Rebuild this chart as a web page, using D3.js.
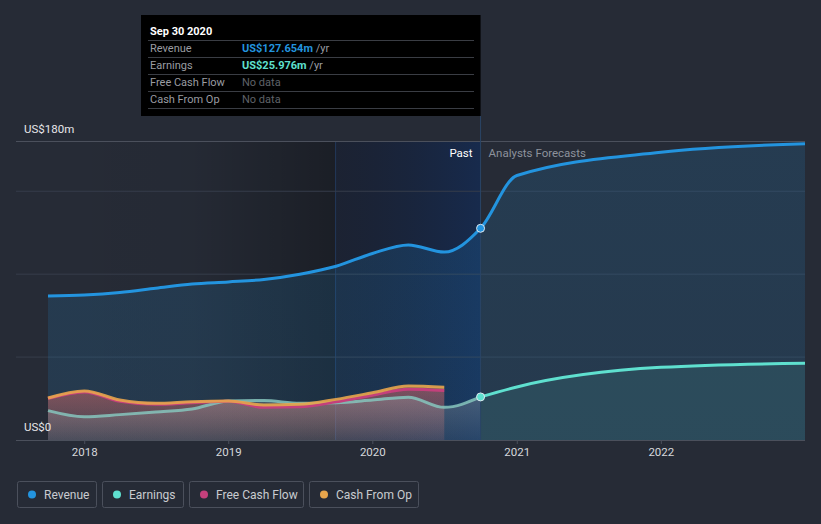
<!DOCTYPE html>
<html><head><meta charset="utf-8">
<script src="https://cdn.jsdelivr.net/npm/d3@7"></script>
<style>
html,body{margin:0;padding:0;background:#262b36;}
svg{display:block;font-family:Roboto,"Noto Sans",sans-serif;}
</style></head>
<body><svg id="c" width="821" height="524"></svg>
<script>
const pastDates = ["2017-09-30","2017-12-31","2018-03-31","2018-06-30","2018-09-30","2018-12-31","2019-03-31","2019-06-30","2019-09-30","2019-12-31","2020-03-31","2020-06-30","2020-09-30"];
const revenuePast = [86.9,87.5,89.0,91.5,94.0,95.3,96.8,100.0,104.8,112.5,117.6,113.3,127.654];
const earningsPast = [17.7,14.0,15.3,16.9,18.7,23.5,23.8,22.1,22.5,24.1,25.8,19.7,25.976];
const fcfDates = pastDates.slice(0,12);
const fcfValues = [25.0,29.0,23.3,21.5,22.5,23.3,19.7,20.0,23.0,27.0,30.6,29.8];
const cfoValues = [25.3,29.6,24.1,22.1,23.1,23.5,21.1,21.5,24.5,28.5,32.6,31.8];
const forecastDates = ["2020-09-30","2020-12-31","2021-12-31","2022-12-31"];
const revenueForecast = [127.654,159.5,173.5,178.7];
const earningsForecast = [25.976,32.0,43.8,46.3];
const yearTicks = ["2018","2019","2020","2021","2022"];
const yTickValues = [0,50,100,150,180];
const yLabels = [{v:180,t:"US$180m"},{v:0,t:"US$0"}];
const seriesNames = ["Revenue","Earnings","Free Cash Flow","Cash From Op"];
const seriesColors = ["#2394df","#5fe0cf","#c4407c","#e8a54c"];
const tipTitle = "Sep 30 2020";
const tipValues = ["US$127.654m","US$25.976m","No data","No data"];

const parse = d3.timeParse("%Y-%m-%d");
const svg = d3.select("#c");
const x = d3.scaleTime().domain([parse("2017-09-30"), parse("2022-12-31")]).range([48,805]);
const y = d3.scaleLinear().domain([0,180]).range([440,141.5]);
const plotL = 16, plotR = 805;
const pastStart = parse("2017-09-30"), hlStart = parse("2019-09-30"), now = parse("2020-09-30");

const defs = svg.append("defs");
const g1 = defs.append("linearGradient").attr("id","pastShade").attr("x1","0").attr("x2","1").attr("y1","0").attr("y2","0");
g1.append("stop").attr("offset","0").attr("stop-color","#000").attr("stop-opacity",0);
g1.append("stop").attr("offset","0.5").attr("stop-color","#000").attr("stop-opacity",0.03);
g1.append("stop").attr("offset","1").attr("stop-color","#000").attr("stop-opacity",0.3);
const g2 = defs.append("linearGradient").attr("id","hl").attr("x1","0").attr("x2","1").attr("y1","0").attr("y2","0");
g2.append("stop").attr("offset","0").attr("stop-color","#06102a").attr("stop-opacity",0.32);
g2.append("stop").attr("offset","1").attr("stop-color","#0d2a5c").attr("stop-opacity",0.6);
seriesColors.forEach((c,i)=>{
  const g = defs.append("linearGradient").attr("id","af"+i).attr("x1","0").attr("x2","0").attr("y1","0").attr("y2","1");
  g.append("stop").attr("offset","0").attr("stop-color", c).attr("stop-opacity", i===0?0.16:0.32);
  g.append("stop").attr("offset","1").attr("stop-color", c).attr("stop-opacity", i===0?0.14:0.08);
});
const ge = defs.append("linearGradient").attr("id","afE").attr("x1","0").attr("x2","0").attr("y1","0").attr("y2","1");
ge.append("stop").attr("offset","0").attr("stop-color","#9aa0a8").attr("stop-opacity",0.35);
ge.append("stop").attr("offset","1").attr("stop-color","#9aa0a8").attr("stop-opacity",0.12);

// shading regions
svg.append("rect").attr("x",x(pastStart)).attr("y",y(180)).attr("width",x(hlStart)-x(pastStart)).attr("height",y(0)-y(180)).attr("fill","url(#pastShade)");
svg.append("rect").attr("x",x(hlStart)).attr("y",y(180)).attr("width",x(now)-x(hlStart)).attr("height",y(0)-y(180)).attr("fill","url(#hl)");
svg.append("line").attr("x1",x(hlStart)-0.5).attr("x2",x(hlStart)-0.5).attr("y1",y(180)).attr("y2",y(0)).attr("stroke","#22395c").attr("stroke-width",1);

// gridlines
svg.append("g").selectAll("line").data(yTickValues.filter(v=>v>0)).join("line")
  .attr("x1",plotL).attr("x2",plotR).attr("y1",d=>y(d)).attr("y2",d=>y(d))
  .attr("stroke",d=>d===180?"#4b505c":"#363d4b").attr("stroke-width",1);

const mk = (dates, vals)=>dates.map((d,i)=>({d:parse(d), v:vals[i]}));
const rev = mk(pastDates, revenuePast).concat(mk(forecastDates, revenueForecast).slice(1));
const earnP = mk(pastDates, earningsPast);
const earnF = mk(forecastDates, earningsForecast);
const fcf = mk(fcfDates, fcfValues);
const cfo = mk(fcfDates, cfoValues);

const curve = d3.curveMonotoneX;
const area = d3.area().x(d=>x(d.d)).y0(y(0)).y1(d=>y(d.v)).curve(curve);
const line = d3.line().x(d=>x(d.d)).y(d=>y(d.v)).curve(curve);

// areas
svg.append("path").attr("d",area(rev)).attr("fill","url(#af0)");
svg.append("path").attr("d",area(earnF)).attr("fill",seriesColors[1]).attr("fill-opacity",0.1);
svg.append("path").attr("d",area(cfo)).attr("fill","url(#af3)");
svg.append("path").attr("d",area(fcf)).attr("fill","url(#af2)");
svg.append("path").attr("d",area(earnP)).attr("fill","url(#afE)");

// lines
svg.append("path").attr("d",line(earnP)).attr("fill","none").attr("stroke","#86c6bd").attr("stroke-opacity",0.85).attr("stroke-width",3);
svg.append("path").attr("d",line(fcf)).attr("fill","none").attr("stroke",seriesColors[2]).attr("stroke-width",3);
svg.append("path").attr("d",line(cfo)).attr("fill","none").attr("stroke",seriesColors[3]).attr("stroke-opacity",0.9).attr("stroke-width",3);
svg.append("path").attr("d",line(earnF)).attr("fill","none").attr("stroke",seriesColors[1]).attr("stroke-width",3);
svg.append("path").attr("d",line(rev)).attr("fill","none").attr("stroke",seriesColors[0]).attr("stroke-width",3);

// now line
svg.append("line").attr("x1",x(now)).attr("x2",x(now)).attr("y1",116).attr("y2",y(0)).attr("stroke","#2a4566").attr("stroke-width",1);

// points
[[revenuePast[12],seriesColors[0]],[earningsPast[12],seriesColors[1]]].forEach(([v,c])=>{
  svg.append("circle").attr("cx",x(now)).attr("cy",y(v)).attr("r",4).attr("fill",c).attr("stroke","#dfe8f0").attr("stroke-width",1);
});

// axis
svg.append("line").attr("x1",plotL).attr("x2",plotR).attr("y1",y(0)+0.5).attr("y2",y(0)+0.5).attr("stroke","#4b505c").attr("stroke-width",1);
const xa = svg.append("g");
yearTicks.forEach(t=>{
  const xx = x(parse(t+"-01-01"));
  xa.append("line").attr("x1",xx).attr("x2",xx).attr("y1",y(0)).attr("y2",y(0)+4).attr("stroke","#4b505c");
  xa.append("text").attr("x",xx).attr("y",456).attr("text-anchor","middle").attr("fill","#d6d8dc").attr("font-size",11.5).text(t);
});
yLabels.forEach(l=>{
  svg.append("text").attr("x",24).attr("y",y(l.v)-9).attr("fill","#e6e7ea").attr("font-size",11.5).text(l.t);
});

svg.append("text").attr("x",x(now)-8).attr("y",157).attr("text-anchor","end").attr("fill","#ffffff").attr("font-size",11.5).text("Past");
svg.append("text").attr("x",x(now)+8).attr("y",157).attr("fill","#8d929c").attr("font-size",11.5).text("Analysts Forecasts");

// tooltip
const tip = svg.append("g");
tip.append("rect").attr("x",141).attr("y",15).attr("width",x(now)-141).attr("height",101).attr("fill","#000");
tip.append("text").attr("x",150).attr("y",35).attr("fill","#fff").attr("font-size",11).attr("font-weight","bold").text(tipTitle);
seriesNames.forEach((n,i)=>{
  const yy = 40 + i*17;
  tip.append("line").attr("x1",148).attr("x2",474).attr("y1",yy+0.5).attr("y2",yy+0.5).attr("stroke","#3a3d44");
  tip.append("text").attr("x",150).attr("y",yy+12).attr("fill","#9a9ca2").attr("font-size",11).text(n);
  const t = tip.append("text").attr("x",242).attr("y",yy+12).attr("font-size",11);
  if (tipValues[i]==="No data") t.attr("fill","#5f6268").text("No data");
  else { t.append("tspan").attr("fill",seriesColors[i]).attr("font-weight","bold").text(tipValues[i]);
         t.append("tspan").attr("fill","#9a9ca2").text(" /yr"); }
});
tip.append("line").attr("x1",148).attr("x2",474).attr("y1",108.5).attr("y2",108.5).attr("stroke","#3a3d44");

// legend
const lg = svg.append("g");
let lx = 17;
const widths = [80,82,115,110];
seriesNames.forEach((n,i)=>{
  const w = widths[i];
  lg.append("rect").attr("x",lx+0.5).attr("y",481.5).attr("width",w-1).attr("height",26).attr("rx",2).attr("fill","none").attr("stroke","#4b505c");
  lg.append("circle").attr("cx",lx+15).attr("cy",494.5).attr("r",4).attr("fill",seriesColors[i]);
  lg.append("text").attr("x",lx+27).attr("y",498.5).attr("fill","#c9cbd0").attr("font-size",12).text(n);
  lx += w + 5;
});
</script></body></html>
